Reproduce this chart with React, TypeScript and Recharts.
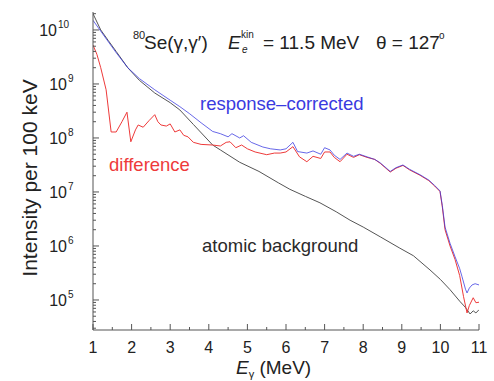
import React from 'react';
import { LineChart, Line, XAxis, YAxis } from 'recharts';

// Atomic background (black)
const bgE = [1.0, 1.2, 1.4, 1.6, 1.9, 2.2, 2.6, 3.0, 3.25, 3.6, 4.1, 4.3, 4.8, 5.3, 5.8, 6.1, 6.5, 6.88, 7.3, 7.66, 8.0, 8.44, 8.95, 9.3, 9.73, 10.0, 10.25, 10.5, 10.64, 10.77, 10.85, 10.92, 11.0];
const bgI = [2.0e10, 1.0e10, 6.3e9, 4.0e9, 2.0e9, 1.17e9, 6.8e8, 4.5e8, 3.3e8, 1.78e8, 7.4e7, 6.0e7, 3.55e7, 2.4e7, 1.48e7, 1.12e7, 8.3e6, 6.3e6, 4.3e6, 3.0e6, 2.24e6, 1.48e6, 9.1e5, 6.6e5, 3.6e5, 2.4e5, 1.55e5, 9.5e4, 7.4e4, 5.5e4, 6.3e4, 5.75e4, 6.6e4];

// Response-corrected (blue)
const rcE = [1.0, 1.2, 1.4, 1.6, 1.9, 2.2, 2.6, 3.0, 3.25, 3.5, 3.8, 4.1, 4.3, 4.5, 4.6, 4.8, 4.9, 5.1, 5.4, 5.6, 5.85, 6.0, 6.18, 6.3, 6.54, 6.7, 6.9, 7.0, 7.14, 7.25, 7.4, 7.58, 7.75, 7.9, 8.1, 8.3, 8.44, 8.7, 8.85, 9.03, 9.2, 9.47, 9.7, 9.85, 9.99, 10.05, 10.12, 10.25, 10.38, 10.5, 10.56, 10.65, 10.69, 10.75, 10.82, 10.9, 11.0];
const rcI = [1.51e10, 9.5e9, 6.0e9, 3.8e9, 2.0e9, 1.26e9, 7.8e8, 5.0e8, 3.8e8, 2.82e8, 1.91e8, 1.32e8, 1.2e8, 1.05e8, 1.2e8, 1.0e8, 1.1e8, 8.3e7, 6.8e7, 6.3e7, 6.0e7, 6.3e7, 8.3e7, 5.6e7, 5.25e7, 5.75e7, 5.0e7, 6.6e7, 6.0e7, 4.8e7, 4.0e7, 5.25e7, 4.57e7, 5.0e7, 4.47e7, 4.0e7, 3.47e7, 2.4e7, 2.82e7, 3.16e7, 2.63e7, 2.09e7, 1.66e7, 1.32e7, 1.05e7, 5.6e6, 2.24e6, 1.12e6, 6.3e5, 3.8e5, 2.7e5, 1.58e5, 1.35e5, 1.66e5, 1.9e5, 2.0e5, 1.9e5];

// Difference (red)
const dfE = [1.0, 1.1, 1.2, 1.34, 1.47, 1.6, 1.75, 1.88, 1.98, 2.1, 2.17, 2.3, 2.45, 2.6, 2.68, 2.76, 2.9, 3.0, 3.12, 3.25, 3.35, 3.46, 3.6, 3.8, 4.1, 4.3, 4.45, 4.55, 4.7, 4.85, 5.0, 5.2, 5.5, 5.7, 5.85, 6.0, 6.18, 6.35, 6.54, 6.7, 6.9, 7.0, 7.14, 7.25, 7.4, 7.58, 7.75, 7.9, 8.1, 8.3, 8.44, 8.7, 8.85, 9.03, 9.2, 9.47, 9.7, 9.85, 9.99, 10.05, 10.12, 10.25, 10.38, 10.5, 10.6, 10.69, 10.75, 10.85, 10.92, 11.0];
const dfI = [5.25e9, 3.55e9, 2.0e9, 7.8e8, 1.29e8, 1.29e8, 2.0e8, 3.0e8, 8.5e7, 1.41e8, 1.74e8, 1.58e8, 2.09e8, 2.7e8, 2.0e8, 1.74e8, 1.66e8, 1.82e8, 1.29e8, 1.41e8, 1.12e8, 1.05e8, 8.3e7, 7.6e7, 7.4e7, 7.1e7, 8.3e7, 8.5e7, 6.6e7, 7.4e7, 6.3e7, 5.5e7, 4.9e7, 5.25e7, 5.25e7, 5.5e7, 6.9e7, 4.47e7, 3.63e7, 4.57e7, 4.17e7, 5.5e7, 5.5e7, 4.37e7, 3.63e7, 5.0e7, 4.37e7, 4.9e7, 4.37e7, 4.0e7, 3.4e7, 2.34e7, 2.75e7, 3.1e7, 2.57e7, 2.04e7, 1.62e7, 1.29e7, 1.02e7, 5.25e6, 2.0e6, 1.0e6, 5.6e5, 2.82e5, 1.15e5, 5.75e4, 7.9e4, 1.1e5, 8.9e4, 9.1e4];

const xMajor = [1, 2, 3, 4, 5, 6, 7, 8, 9, 10, 11];
const xMinor = [1.5, 2.5, 3.5, 4.5, 5.5, 6.5, 7.5, 8.5, 9.5, 10.5];
const yMajorExp = [5, 6, 7, 8, 9, 10];
const yMinorMult = [2, 3, 4, 5, 6, 7, 8, 9];
const yDomain = [2.78e4, 2.15e10];

const rows = (e: number[], v: number[]) => e.map((x, i) => ({ e: x, v: v[i] }));
const bgData = rows(bgE, bgI);
const rcData = rows(rcE, rcI);
const dfData = rows(dfE, dfI);

const xTicks = [...xMajor, ...xMinor].sort((a, b) => a - b);
const yTicks: number[] = [];
for (let d = 4; d <= 10; d++) {
  if (d >= 5) yTicks.push(Math.pow(10, d));
  for (const m of yMinorMult) {
    const v = m * Math.pow(10, d);
    if (v >= yDomain[0] && v <= yDomain[1]) yTicks.push(v);
  }
}
yTicks.sort((a, b) => a - b);

const FONT = '"Liberation Sans", Arial, Helvetica, sans-serif';
const AX = '#555';

const isMajorY = (v: number) => yMajorExp.some((p) => Math.abs(v - Math.pow(10, p)) / v < 1e-6);
const isMajorX = (v: number) => xMajor.includes(v);

const BottomTick = (props: any) => {
  const { x, y, payload } = props;
  const major = isMajorX(payload.value);
  return (
    <g>
      <line x1={x} x2={x} y1={y} y2={y - (major ? 6 : 3)} stroke={AX} strokeWidth={1} />
      {major && (
        <text x={x} y={y + 23} textAnchor="middle" fontSize={16} fontFamily={FONT} fill="#222">
          {payload.value}
        </text>
      )}
    </g>
  );
};

const TopTick = (props: any) => {
  const { x, y, payload } = props;
  const major = isMajorX(payload.value);
  return <line x1={x} x2={x} y1={y} y2={y + (major ? 6 : 3)} stroke={AX} strokeWidth={1} />;
};

const LeftTick = (props: any) => {
  const { x, y, payload } = props;
  const v = payload.value;
  const major = isMajorY(v);
  const exp = String(Math.round(Math.log10(v)));
  const baseEnd = x - 26 - (exp.length - 1) * 10;
  return (
    <g>
      <line x1={x} x2={x + (major ? 6 : 3)} y1={y} y2={y} stroke={AX} strokeWidth={1} />
      {major && (
        <g fontFamily={FONT} fill="#222">
          <text x={baseEnd} y={y + 6} textAnchor="end" fontSize={16}>10</text>
          <text x={baseEnd + 1} y={y - 2} textAnchor="start" fontSize={10}>{exp}</text>
        </g>
      )}
    </g>
  );
};

const RightTick = (props: any) => {
  const { x, y, payload } = props;
  const major = isMajorY(payload.value);
  return <line x1={x} x2={x - (major ? 6 : 3)} y1={y} y2={y} stroke={AX} strokeWidth={1} />;
};

export default function App() {
  return (
    <div style={{ position: 'absolute', left: 0, top: 0, width: 494, height: 381, background: '#fff' }}>
      <LineChart width={494} height={381} margin={{ top: 12, right: 15, bottom: 0, left: 0 }}>
        <XAxis
          xAxisId="b"
          dataKey="e"
          type="number"
          domain={[1, 11]}
          ticks={xTicks}
          interval={0}
          height={51}
          tickSize={0}
          tickMargin={0}
          tickLine={false}
          axisLine={{ stroke: AX }}
          tick={<BottomTick />}
          allowDataOverflow
        />
        <XAxis
          xAxisId="t"
          orientation="top"
          dataKey="e"
          type="number"
          domain={[1, 11]}
          ticks={xTicks}
          interval={0}
          height={0}
          tickSize={0}
          tickMargin={0}
          tickLine={false}
          axisLine={{ stroke: AX }}
          tick={<TopTick />}
          allowDataOverflow
        />
        <YAxis
          yAxisId="l"
          scale="log"
          type="number"
          domain={yDomain}
          ticks={yTicks}
          interval={0}
          width={93}
          tickSize={0}
          tickMargin={0}
          tickLine={false}
          axisLine={{ stroke: AX }}
          tick={<LeftTick />}
          allowDataOverflow
        />
        <YAxis
          yAxisId="r"
          orientation="right"
          scale="log"
          type="number"
          domain={yDomain}
          ticks={yTicks}
          interval={0}
          width={0}
          tickSize={0}
          tickMargin={0}
          tickLine={false}
          axisLine={{ stroke: AX }}
          tick={<RightTick />}
          allowDataOverflow
        />
        <Line xAxisId="b" yAxisId="l" data={bgData} dataKey="v" stroke="#555555" strokeWidth={1} dot={false} isAnimationActive={false} />
        <Line xAxisId="b" yAxisId="l" data={dfData} dataKey="v" stroke="#ee3a3a" strokeWidth={1} dot={false} isAnimationActive={false} />
        <Line xAxisId="b" yAxisId="l" data={rcData} dataKey="v" stroke="#3535e0" strokeOpacity={0.75} strokeWidth={1} dot={false} isAnimationActive={false} />
      </LineChart>
      <svg width={494} height={381} style={{ position: 'absolute', left: 0, top: 0, pointerEvents: 'none' }} fontFamily={FONT}>
        <text transform="translate(37,178) rotate(-90)" textAnchor="middle" fontSize={21} fill="#222">Intensity per 100 keV</text>
        <text x={236} y={374} fontSize={19} fill="#222">
          <tspan fontStyle="italic">E</tspan>
          <tspan fontSize={11} dy={4}>γ</tspan>
          <tspan dy={-4}> (MeV)</tspan>
        </text>
        <g fill="#222">
          <text x={133} y={39} fontSize={11}>80</text>
          <text x={144} y={49} fontSize={19}>Se(γ,γ′)</text>
          <text x={228} y={49} fontSize={19} fontStyle="italic">E</text>
          <text x={242} y={53} fontSize={10} fontStyle="italic">e</text>
          <text x={241} y={38} fontSize={10}>kin</text>
          <text x={263} y={49} fontSize={19}>= 11.5 MeV</text>
          <text x={376} y={49} fontSize={19}>θ = 127</text>
          <text x={439} y={39} fontSize={10}>o</text>
        </g>
        <text x={200} y={110} fontSize={18.5} fill="#3a3ae0">response–corrected</text>
        <text x={109} y={171} fontSize={18.5} fill="#ee3a3a">difference</text>
        <text x={202} y={252} fontSize={18.5} fill="#2a2a2a">atomic background</text>
      </svg>
    </div>
  );
}
